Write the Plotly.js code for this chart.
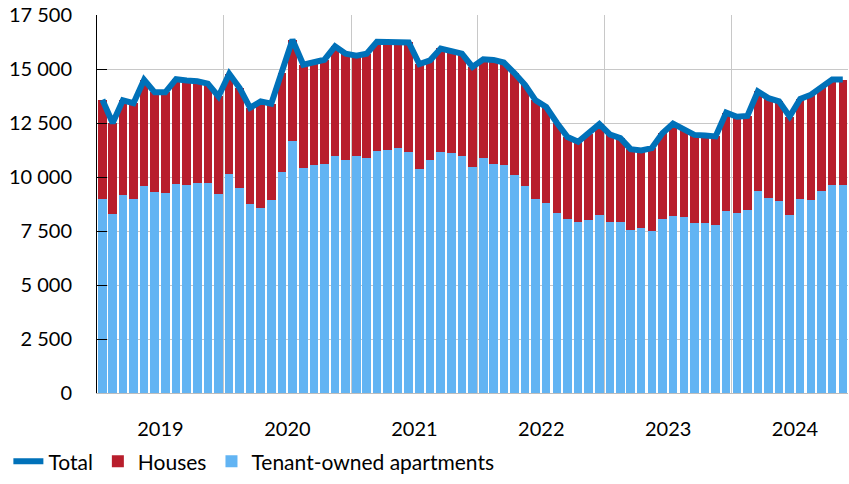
<!DOCTYPE html>
<html>
<head>
<meta charset="utf-8">
<script src="https://cdn.plot.ly/plotly-3.0.1.min.js"></script>
<style>
  body { margin: 0; background: #fff; }
  #chart { width: 849px; height: 484px; }
</style>
</head>
<body>
<div id="chart"></div>
<script>
// monthly, Jan 2019 - Nov 2024
const months = [];
for (let y = 2019; y <= 2024; y++) {
  for (let m = 1; m <= 12; m++) {
    if (y === 2024 && m > 11) break;
    months.push(y + "-" + String(m).padStart(2, "0") + "-01");
  }
}

const apartments = [
  8970, 8280, 9190, 8970, 9590, 9310, 9280, 9680, 9640, 9730, 9730, 9220,
  10120, 9480, 8730, 8560, 8940, 10240, 11650, 10410, 10550, 10610, 10980, 10770,
  10980, 10890, 11210, 11240, 11350, 11170, 10350, 10810, 11170, 11100, 10950, 10470,
  10870, 10610, 10560, 10090, 9590, 8990, 8800, 8340, 8060, 7940, 8020, 8250,
  7920, 7920, 7550, 7630, 7510, 8060, 8200, 8160, 7880, 7860, 7780, 8430,
  8320, 8480, 9360, 9020, 8910, 8250, 8960, 8940, 9360, 9640, 9640
];

const houses = [
  4610, 4220, 4360, 4450, 4910, 4610, 4640, 4850, 4830, 4700, 4590, 4510,
  4660, 4640, 4470, 4940, 4450, 4570, 4710, 4790, 4730, 4820, 5070, 4940,
  4640, 4820, 5050, 5020, 4940, 5060, 4880, 4590, 4780, 4760, 4760, 4630,
  4580, 4810, 4740, 4720, 4680, 4560, 4440, 4160, 3790, 3690, 3980, 4200,
  4040, 3880, 3740, 3600, 3830, 3970, 4270, 4030, 4070, 4060, 4100, 4550,
  4470, 4350, 4600, 4630, 4590, 4550, 4650, 4870, 4830, 4870, 4870
];

const total = [
  13580, 12500, 13550, 13420, 14500, 13920, 13920, 14530, 14470, 14430, 14320, 13730,
  14780, 14120, 13200, 13500, 13390, 14810, 16360, 15200, 15280, 15430, 16050, 15710,
  15620, 15710, 16260, 16260, 16290, 16230, 15230, 15400, 15950, 15860, 15710, 15100,
  15450, 15420, 15300, 14810, 14270, 13550, 13240, 12500, 11850, 11630, 12000, 12450,
  11960, 11800, 11290, 11230, 11340, 12030, 12470, 12190, 11950, 11920, 11880, 12980,
  12790, 12830, 13960, 13650, 13500, 12800, 13610, 13810, 14190, 14510, 14510
];

const font = "Lato, 'Open Sans', sans-serif";

const traces = [
  {
    x: months, y: total, name: "Total", type: "scatter", mode: "lines",
    xperiod: "M1", xperiodalignment: "middle",
    line: { color: "#0071b9", width: 6 }, legendrank: 1
  },
  {
    x: months, y: apartments, name: "Tenant-owned apartments", type: "bar",
    xperiod: "M1", xperiodalignment: "middle",
    marker: { color: "#62b4f3" }, legendrank: 3
  },
  {
    x: months, y: houses, name: "Houses", type: "bar",
    xperiod: "M1", xperiodalignment: "middle",
    marker: { color: "#b81e2c" }, legendrank: 2
  }
];

const layout = {
  width: 849, height: 484,
  margin: { l: 97, r: 1, t: 15, b: 91 },
  barmode: "stack",
  bargap: 0.17,
  separators: ". ",
  font: { family: font, size: 20, color: "#000" },
  plot_bgcolor: "#fff", paper_bgcolor: "#fff",
  showlegend: true,
  legend: {
    orientation: "h", traceorder: "normal",
    x: -0.118, xanchor: "left", y: -0.236, yanchor: "bottom",
    font: { family: font, size: 21 }, itemwidth: 30
  },
  xaxis: {
    type: "date",
    range: ["2019-01-01", "2024-12-01"],
    tick0: "2019-01-01", dtick: "M12",
    ticklabelmode: "period", tickformat: "%Y",
    showgrid: true, gridcolor: "#c8c8c8",
    showline: true, linecolor: "#bdbdbd",
    ticks: "", ticklabelstandoff: 18
  },
  yaxis: {
    range: [0, 17500], dtick: 2500,
    tickformat: ",d", exponentformat: "none",
    separatethousands: true,
    showgrid: true, gridcolor: "#c8c8c8",
    showline: true, linecolor: "#000", linewidth: 1,
    ticks: "inside", ticklen: 10, tickcolor: "#000",
    zeroline: false, ticklabelstandoff: 20
  }
};

Plotly.newPlot("chart", traces, layout, { displayModeBar: false });
</script>
</body>
</html>
